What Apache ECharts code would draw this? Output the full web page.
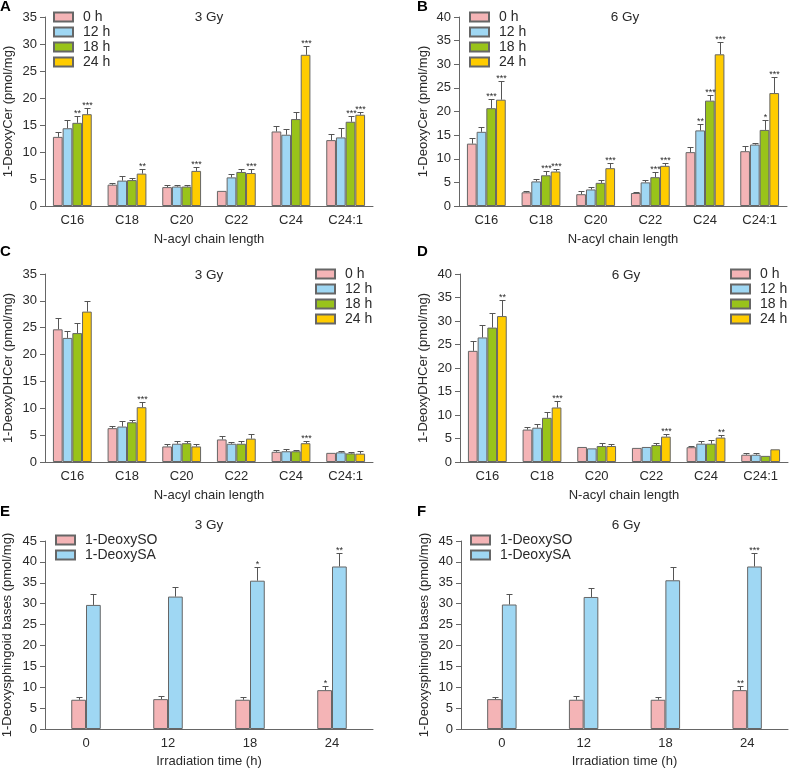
<!DOCTYPE html>
<html>
<head>
<meta charset="utf-8">
<script src="https://cdn.jsdelivr.net/npm/echarts@6/dist/echarts.min.js"></script>
<style>
  html, body { margin: 0; padding: 0; background: #fff; }
  #chart { width: 789px; height: 772px; }
</style>
</head>
<body>
<div id="chart"></div>
<script>
// categories
var chainCats = ['C16', 'C18', 'C20', 'C22', 'C24', 'C24:1'];
var hourNames = ['0 h', '12 h', '18 h', '24 h'];
var timeCats = ['0', '12', '18', '24'];
var baseNames = ['1-DeoxySO', '1-DeoxySA'];

// A: 1-DeoxyCer, 3 Gy (mean / upper SD per hour)
var aMean0 = [12.8, 3.95, 3.5, 2.8, 13.8, 12.2];
var aMean12 = [14.4, 4.7, 3.6, 5.3, 13.2, 12.7];
var aMean18 = [15.4, 4.8, 3.6, 6.3, 16.1, 15.6];
var aMean24 = [17.0, 6.0, 6.5, 6.1, 28.0, 16.9];
var aErr0 = [0.9, 0.3, 0.4, 0.15, 1.0, 1.2];
var aErr12 = [1.5, 0.8, 0.3, 0.6, 1.1, 1.7];
var aErr18 = [1.3, 0.4, 0.3, 0.5, 1.4, 1.1];
var aErr24 = [1.2, 0.9, 0.7, 0.8, 1.6, 0.6];
var aSig18 = ['**', '', '', '', '', '***'];
var aSig24 = ['***', '**', '***', '***', '***', '***'];

// B: 1-DeoxyCer, 6 Gy
var bMean0 = [13.2, 2.9, 2.5, 2.75, 11.4, 11.6];
var bMean12 = [15.7, 5.2, 3.5, 5.0, 16.0, 13.0];
var bMean18 = [20.7, 6.5, 4.9, 6.1, 22.3, 16.1];
var bMean24 = [22.5, 7.3, 8.0, 8.5, 32.1, 23.9];
var bErr0 = [1.2, 0.3, 0.6, 0.25, 1.1, 1.1];
var bErr12 = [1.0, 0.5, 0.5, 0.4, 1.4, 0.4];
var bErr18 = [2.0, 1.0, 0.7, 1.1, 1.2, 2.2];
var bErr24 = [3.9, 0.6, 1.2, 0.5, 2.6, 3.3];
var bSig12 = ['', '', '', '', '**', ''];
var bSig18 = ['***', '***', '', '***', '***', '*'];
var bSig24 = ['***', '***', '***', '***', '***', '***'];

// C: 1-DeoxyDHCer, 3 Gy
var cMean0 = [24.7, 6.3, 2.9, 4.2, 1.9, 1.7];
var cMean12 = [23.1, 6.6, 3.4, 3.4, 2.0, 1.8];
var cMean18 = [24.0, 7.4, 3.5, 3.4, 2.0, 1.6];
var cMean24 = [28.0, 10.2, 2.9, 4.35, 3.5, 1.55];
var cErr0 = [2.1, 0.35, 0.5, 0.65, 0.3, 0.2];
var cErr12 = [1.2, 1.0, 0.6, 0.3, 0.4, 0.3];
var cErr18 = [1.9, 0.4, 0.5, 0.6, 0.3, 0.25];
var cErr24 = [2.0, 0.9, 0.4, 0.8, 0.5, 0.45];
var cSig24 = ['', '***', '', '', '***', ''];

// D: 1-DeoxyDHCer, 6 Gy
var dMean0 = [23.65, 6.9, 3.2, 3.0, 3.15, 1.55];
var dMean12 = [26.5, 7.3, 2.9, 3.2, 3.9, 1.55];
var dMean18 = [28.6, 9.4, 3.4, 3.6, 3.9, 1.3];
var dMean24 = [31.05, 11.6, 3.4, 5.4, 5.2, 2.7];
var dErr0 = [2.0, 0.55, 0.3, 0.25, 0.2, 0.45];
var dErr12 = [2.6, 0.7, 0.15, 0.3, 0.6, 0.45];
var dErr18 = [3.0, 1.3, 0.7, 0.45, 0.7, 0];
var dErr24 = [3.4, 1.3, 0.35, 0.6, 0.6, 0.15];
var dSig24 = ['**', '***', '', '***', '**', ''];

// E: sphingoid bases, 3 Gy
var eSO = [7.0, 7.15, 7.0, 9.3];
var eSOErr = [0.6, 0.65, 0.55, 1.0];
var eSOSig = ['', '', '', '*'];
var eSA = [29.7, 31.7, 35.5, 38.9];
var eSAErr = [2.7, 2.3, 3.3, 3.3];
var eSASig = ['', '', '*', '**'];

// F: sphingoid bases, 6 Gy
var fSO = [7.15, 7.0, 7.0, 9.3];
var fSOErr = [0.55, 0.8, 0.55, 1.0];
var fSOSig = ['', '', '', '**'];
var fSA = [29.8, 31.6, 35.6, 38.9];
var fSAErr = [2.6, 2.2, 3.2, 3.3];
var fSASig = ['', '', '', '***'];

var none = ['', '', '', '', '', ''];
var hourColors = ['#f4b4b6', '#9fd7f3', '#99c31a', '#ffcc00'];
var edge = '#666';
var ink = '#2a2a2a';
var font = 'Liberation Sans, Arial, sans-serif';

var chart = echarts.init(document.getElementById('chart'));

var grids = [
  { left: 45, top: 17, width: 328, height: 189 },
  { left: 459, top: 17, width: 328, height: 189 },
  { left: 45, top: 274, width: 328, height: 188 },
  { left: 460, top: 274, width: 328, height: 188 },
  { left: 45, top: 541, width: 328, height: 188 },
  { left: 461, top: 541, width: 327, height: 188 }
];

var yNames = ['1-DeoxyCer (pmol/mg)', '1-DeoxyCer (pmol/mg)', '1-DeoxyDHCer (pmol/mg)',
  '1-DeoxyDHCer (pmol/mg)', '1-Deoxysphingoid bases (pmol/mg)', '1-Deoxysphingoid bases (pmol/mg)'];
var yMax = [35, 40, 35, 40, 45, 45];
var xNames = ['N-acyl chain length', 'N-acyl chain length', 'N-acyl chain length',
  'N-acyl chain length', 'Irradiation time (h)', 'Irradiation time (h)'];
var yGap = [30, 29, 30, 30, 31, 30];

var xAxes = [], yAxes = [], series = [];

grids.forEach(function(g, k) {
  xAxes.push({
    type: 'category', gridIndex: k,
    data: k < 4 ? chainCats : timeCats,
    name: xNames[k], nameLocation: 'middle', nameGap: k < 4 ? 27 : 26,
    nameTextStyle: { fontFamily: font, fontSize: 13, color: ink },
    axisLine: { lineStyle: { color: edge } },
    axisTick: { length: 5, lineStyle: { color: edge } },
    axisLabel: { fontFamily: font, fontSize: 13, color: ink, margin: 8 }
  });
  yAxes.push({
    type: 'value', gridIndex: k, min: 0, max: yMax[k], interval: 5,
    name: yNames[k], nameLocation: 'middle', nameGap: yGap[k],
    nameTextStyle: { fontFamily: font, fontSize: 13, color: ink },
    axisLine: { show: true, lineStyle: { color: edge } },
    axisTick: { show: true, length: 5, lineStyle: { color: edge } },
    axisLabel: { fontFamily: font, fontSize: 13, color: ink, margin: 8 },
    splitLine: { show: false }
  });
});

// one bar series plus its upper error whisker and stars
function addGroup(k, names, colors, means, errs, sigs, gap) {
  var n = means.length;
  means.forEach(function(m, i) {
    series.push({
      type: 'bar', name: names[i], xAxisIndex: k, yAxisIndex: k,
      data: m, barGap: '0%', barCategoryGap: (gap * 100) + '%',
      itemStyle: { color: colors[i], borderColor: edge, borderWidth: 1 },
      emphasis: { disabled: true }
    });
    series.push({
      type: 'custom', xAxisIndex: k, yAxisIndex: k, silent: true, z: 3,
      data: m.map(function(v, j) { return [j, v, v + errs[i][j]]; }),
      encode: { x: 0, y: [1, 2] },
      renderItem: function(params, api) {
        var j = api.value(0);
        var base = api.coord([j, api.value(1)]);
        var top = api.coord([j, api.value(2)]);
        var band = api.size([1, 0])[0];
        var group = band * (1 - gap);
        var bw = group / n;
        var x = Math.round(base[0] - group / 2 + bw * (i + 0.5)) + 0.5;
        var ty = Math.round(top[1]) + 0.5;
        var kids = [];
        if (base[1] - ty > 0.5) {
          kids.push({ type: 'line', shape: { x1: x, y1: base[1], x2: x, y2: ty },
            style: { stroke: '#555', lineWidth: 1 } });
          kids.push({ type: 'line', shape: { x1: x - 3, y1: ty, x2: x + 3, y2: ty },
            style: { stroke: '#555', lineWidth: 1 } });
        }
        var s = sigs[i][params.dataIndex];
        if (s) {
          kids.push({ type: 'text', style: { text: s, x: x, y: ty + 2, align: 'center',
            verticalAlign: 'bottom', fontSize: 9, fontFamily: font, fill: ink } });
        }
        return { type: 'group', children: kids };
      }
    });
  });
}

addGroup(0, hourNames, hourColors, [aMean0, aMean12, aMean18, aMean24],
  [aErr0, aErr12, aErr18, aErr24], [none, none, aSig18, aSig24], 0.29);
addGroup(1, hourNames, hourColors, [bMean0, bMean12, bMean18, bMean24],
  [bErr0, bErr12, bErr18, bErr24], [none, bSig12, bSig18, bSig24], 0.29);
addGroup(2, hourNames, hourColors, [cMean0, cMean12, cMean18, cMean24],
  [cErr0, cErr12, cErr18, cErr24], [none, none, none, cSig24], 0.29);
addGroup(3, hourNames, hourColors, [dMean0, dMean12, dMean18, dMean24],
  [dErr0, dErr12, dErr18, dErr24], [none, none, none, dSig24], 0.29);
addGroup(4, baseNames, hourColors, [eSO, eSA], [eSOErr, eSAErr], [eSOSig, eSASig], 0.64);
addGroup(5, baseNames, hourColors, [fSO, fSA], [fSOErr, fSAErr], [fSOSig, fSASig], 0.64);

function legendAt(left, top, names) {
  return {
    orient: 'vertical', left: left, top: top, data: names, padding: 0,
    icon: 'rect', itemWidth: 19, itemHeight: 9, itemGap: 1,
    selectedMode: false,
    textStyle: { fontFamily: font, fontSize: 14, color: ink, lineHeight: 12, padding: [0, 0, 0, 5] }
  };
}

function label(text, x, y, size, bold) {
  return { type: 'text', x: x, y: y, style: { text: text, fontFamily: font, fontSize: size,
    fontWeight: bold ? 'bold' : 'normal', fill: bold ? '#000' : ink,
    align: bold ? 'left' : 'center', verticalAlign: 'middle' } };
}

chart.setOption({
  animation: false,
  backgroundColor: '#fff',
  grid: grids,
  xAxis: xAxes,
  yAxis: yAxes,
  legend: [
    legendAt(53, 10, hourNames),
    legendAt(469, 10, hourNames),
    legendAt(315, 267, hourNames),
    legendAt(730, 267, hourNames),
    legendAt(55, 533, baseNames),
    legendAt(470, 533, baseNames)
  ],
  graphic: [
    label('A', 0, 7, 15, true), label('B', 417, 7, 15, true),
    label('C', 0, 252, 15, true), label('D', 417, 252, 15, true),
    label('E', 0, 512, 15, true), label('F', 417, 512, 15, true),
    label('3 Gy', 209, 17, 13.5), label('6 Gy', 625, 17, 13.5),
    label('3 Gy', 209, 275, 13.5), label('6 Gy', 626, 275, 13.5),
    label('3 Gy', 209, 525, 13.5), label('6 Gy', 626, 525, 13.5)
  ],
  series: series
});

window.addEventListener('resize', function() { chart.resize(); });
</script>
</body>
</html>
